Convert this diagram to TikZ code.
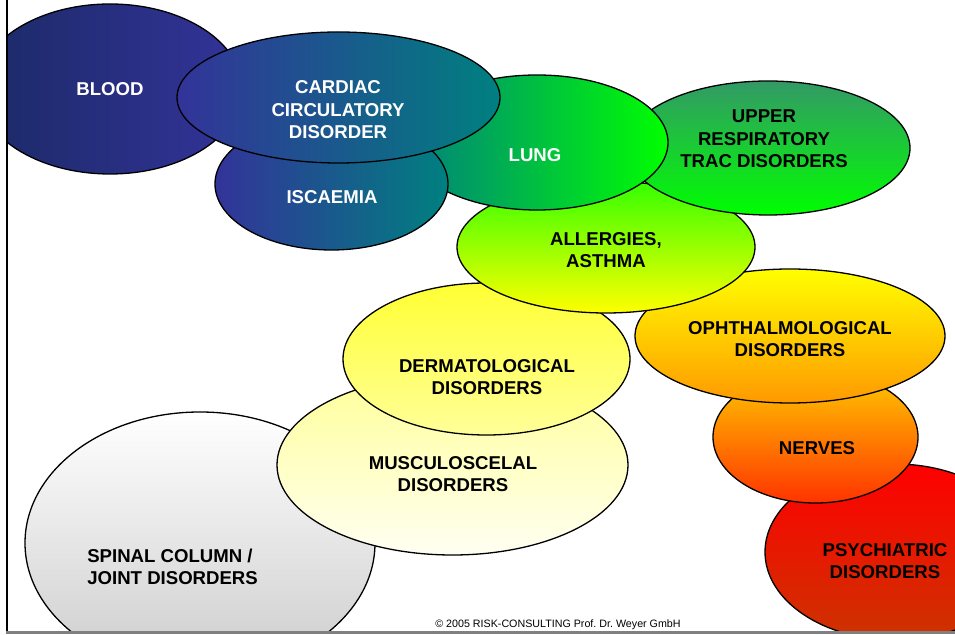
\documentclass[tikz,border=0pt]{standalone}
\usepackage{fontspec}
\setmainfont{Liberation Sans}
\usepackage{xcolor}
\usetikzlibrary{shapes.geometric, positioning, calc}

\definecolor{navy}{HTML}{1B2A66}
\definecolor{indigo}{HTML}{333399}
\definecolor{tealish}{HTML}{008080}
\definecolor{seagreen}{HTML}{339966}
\definecolor{brightgreen}{HTML}{00FF00}
\definecolor{limegreen}{HTML}{33FF00}
\definecolor{paleyellow}{HTML}{FFFF99}
\definecolor{creamy}{HTML}{FFFFF2}
\definecolor{lightgray}{HTML}{CCCCCC}
\definecolor{amber}{HTML}{FFCC00}
\definecolor{orangey}{HTML}{FF9900}
\definecolor{redorange}{HTML}{FF3300}
\definecolor{rust}{HTML}{CC3300}

\begin{document}
\begin{tikzpicture}[x=1pt, y=1pt,
  blob/.style={ellipse, draw=black, line width=1.3pt, inner sep=0pt},
  lbl/.style={font=\bfseries\fontsize{18.6}{22.5}\selectfont, align=center},
  wlbl/.style={lbl, text=white},
  note/.style={font=\fontsize{10.7}{12}\selectfont}
]
  \useasboundingbox (0,0) rectangle (955,634);

  \begin{scope}
    \clip (7,1.5) rectangle (955,634);
    \node[blob, minimum width=350, minimum height=262, top color=white, bottom color=lightgray] (spinal) at (200,91) {};
    \node[blob, minimum width=351, minimum height=180, top color=paleyellow, bottom color=creamy] (musculo) at (452.5,169) {};
    \node[blob, minimum width=287, minimum height=152, top color=yellow!80!white, bottom color=paleyellow] (dermat) at (486.5,275) {};
    \node[blob, minimum width=260, minimum height=176, top color=red, bottom color=rust] (psych) at (895,82) {};
    \node[blob, minimum width=205, minimum height=132, top color=amber, bottom color=redorange] (nerves) at (815.5,197) {};
    \node[blob, minimum width=310, minimum height=134, top color=yellow, bottom color=orangey] (ophth) at (790,298) {};
    \node[blob, minimum width=298, minimum height=132, top color=limegreen, bottom color=yellow] (allergy) at (606,387) {};
    \node[blob, minimum width=284, minimum height=134, top color=seagreen, bottom color=brightgreen] (upper) at (768,486) {};
    \node[blob, minimum width=262, minimum height=135, left color=tealish, right color=brightgreen] (lung) at (537,491.5) {};
    \node[blob, minimum width=264, minimum height=170, left color=navy, right color=indigo] (blood) at (110,545) {};
    \node[blob, minimum width=233, minimum height=132, left color=indigo, right color=tealish] (iscaemia) at (331.5,450) {};
    \node[blob, minimum width=323, minimum height=131, left color=indigo, right color=tealish] (cardiac) at (338.5,536.5) {};
  \end{scope}

  % labels
  \node[wlbl] (bloodtxt)    at (110,545)   {BLOOD};
  \node[wlbl] (cardiactxt)  at (338,524)   {CARDIAC\\CIRCULATORY\\DISORDER};
  \node[wlbl] (iscaemiatxt) at (332,437)   {ISCAEMIA};
  \node[wlbl] (lungtxt)     at (535,479)   {LUNG};
  \node[lbl]  (uppertxt)    at (764,495)   {UPPER\\RESPIRATORY\\TRAC DISORDERS};
  \node[lbl]  (allergytxt)  at (606,384)   {ALLERGIES,\\ASTHMA};
  \node[lbl]  (ophthtxt)    at (790,295)   {OPHTHALMOLOGICAL\\DISORDERS};
  \node[lbl]  (dermattxt)   at (487,257)   {DERMATOLOGICAL\\DISORDERS};
  \node[lbl]  (musculotxt)  at (453,160)   {MUSCULOSCELAL\\DISORDERS};
  \node[lbl]  (nervestxt)   at (817,186)   {NERVES};
  \node[lbl]  (psychtxt)    at (885,73)    {PSYCHIATRIC\\DISORDERS};
  \node[lbl]  (spinaltxt)   at (170,67)    {SPINAL COLUMN /\\\ JOINT DISORDERS};
  \node[note] (copyright)   at (558,9)     {\textcopyright{} 2005 RISK-CONSULTING Prof.\ Dr.\ Weyer GmbH};

  % frame
  \draw[line width=2pt, black] (7,634) -- (7,1.5);
  \draw[line width=2pt, gray] (6,1.5) -- (955,1.5);
\end{tikzpicture}
\end{document}
